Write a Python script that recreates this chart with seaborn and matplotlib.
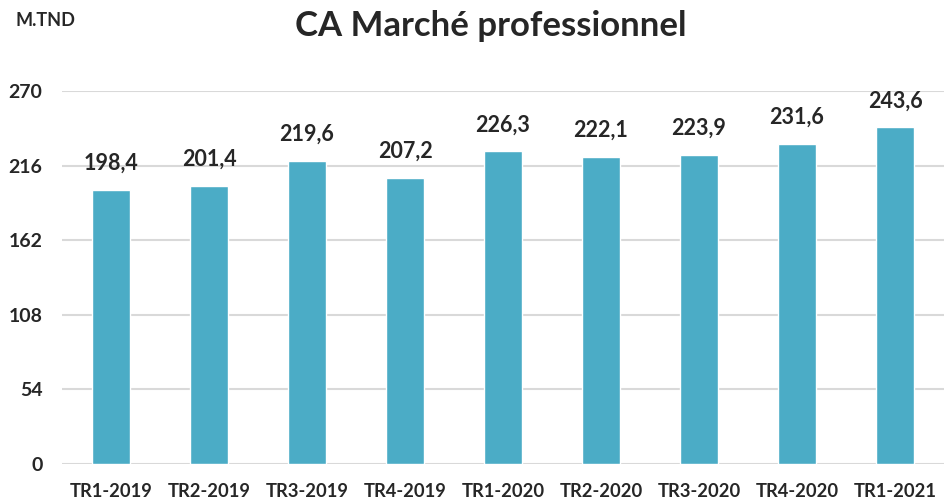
import pandas as pd
import seaborn as sns
import matplotlib.pyplot as plt

# Données
trimestres = ["TR1-2019", "TR2-2019", "TR3-2019", "TR4-2019", "TR1-2020",
              "TR2-2020", "TR3-2020", "TR4-2020", "TR1-2021"]
ca = [198.4, 201.4, 219.6, 207.2, 226.3, 222.1, 223.9, 231.6, 243.6]
y_ticks = [0, 54, 108, 162, 216, 270]

df = pd.DataFrame({"Trimestre": trimestres, "CA": ca})

sns.set_theme(style="white")
plt.rcParams["font.family"] = ["Lato", "DejaVu Sans"]

fig = plt.figure(figsize=(9.44, 5.03), dpi=100)
ax = fig.add_axes([0.0657, 0.0775, 0.9343, 0.7416])

sns.barplot(data=df, x="Trimestre", y="CA", color="#4BACC6", width=0.39,
            saturation=1, ax=ax, zorder=3)

ax.set_ylim(0, 270)
ax.set_xlim(-0.5, 8.5)
ax.set_yticks(y_ticks)
ax.yaxis.grid(True, color="#d9d9d9", linewidth=1.5, zorder=0)
ax.set_axisbelow(True)
for s in ax.spines.values():
    s.set_visible(False)

ax.set_xlabel("")
ax.set_ylabel("")
ax.tick_params(axis="y", length=0, pad=14, labelsize=14)
ax.tick_params(axis="x", length=0, pad=14, labelsize=13.2)
for lbl in ax.get_xticklabels() + ax.get_yticklabels():
    lbl.set_fontweight("bold")

# Étiquettes de valeurs
for i, v in enumerate(ca):
    ax.annotate(f"{v:.1f}".replace(".", ","), (i, v), xytext=(0, 11.5),
                textcoords="offset points", ha="center", va="bottom",
                fontsize=15.5, fontweight="bold")

fig.text(0.52, 0.948, "CA Marché professionnel", ha="center", va="center",
         fontsize=25, fontweight="bold")
fig.text(0.016, 0.96, "M.TND", ha="left", va="center",
         fontsize=13, fontweight="bold")

fig.savefig("out.png", dpi=100)
